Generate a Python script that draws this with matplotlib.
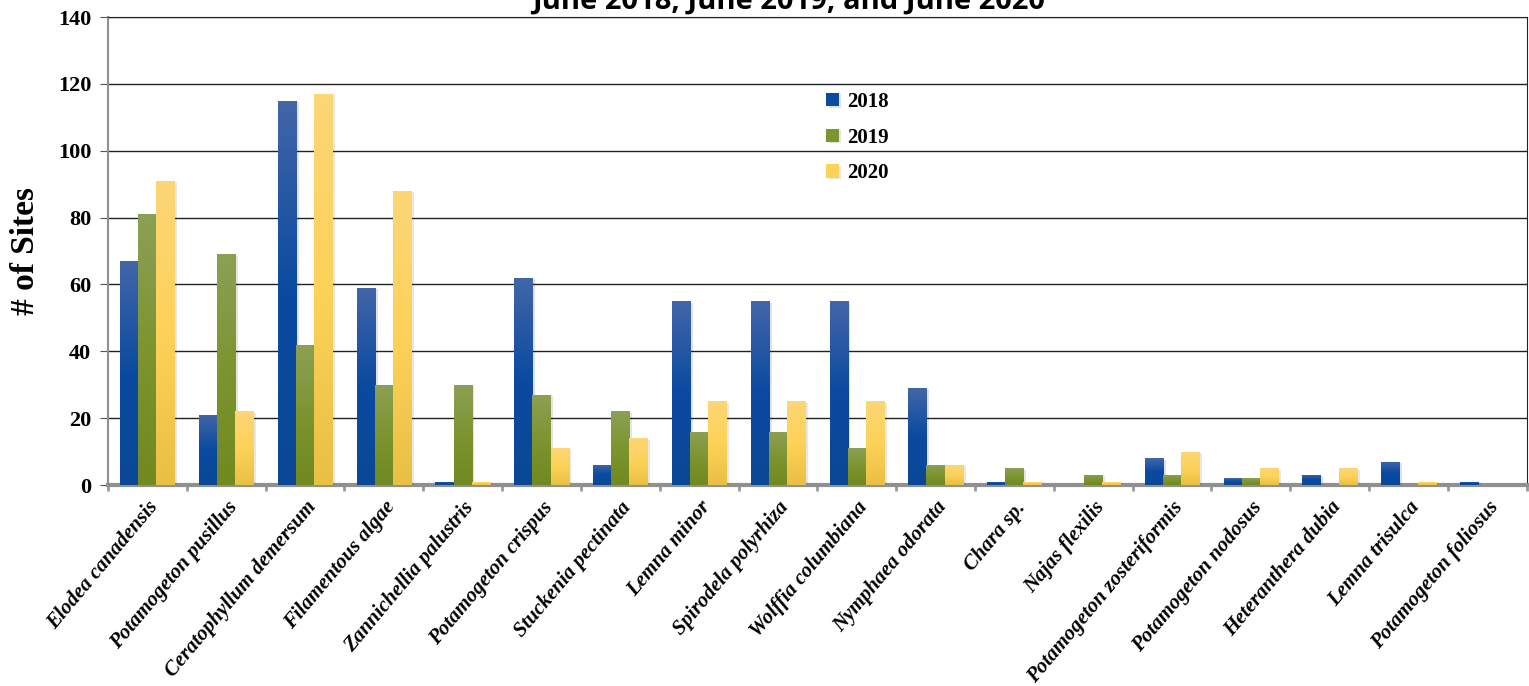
import numpy as np
import matplotlib
matplotlib.use("Agg")
import matplotlib.pyplot as plt
import matplotlib.patheffects as pe
from matplotlib.colors import LinearSegmentedColormap

species = ["Elodea canadensis", "Potamogeton pusillus", "Ceratophyllum demersum",
           "Filamentous algae", "Zannichellia palustris", "Potamogeton crispus",
           "Stuckenia pectinata", "Lemna minor", "Spirodela polyrhiza",
           "Wolffia columbiana", "Nymphaea odorata", "Chara sp.", "Najas flexilis",
           "Potamogeton zosteriformis", "Potamogeton nodosus", "Heteranthera dubia",
           "Lemna trisulca", "Potamogeton foliosus"]
sites_2018 = [67, 21, 115, 59, 1, 62, 6, 55, 55, 55, 29, 1, 0, 8, 2, 3, 7, 1]
sites_2019 = [81, 69, 42, 30, 30, 27, 22, 16, 16, 11, 6, 5, 3, 3, 2, 0, 0, 0]
sites_2020 = [91, 22, 117, 88, 1, 11, 14, 25, 25, 25, 6, 1, 1, 10, 5, 5, 1, 0]
years = ["2018", "2019", "2020"]
yticks = [0, 20, 40, 60, 80, 100, 120, 140]

# bottom, middle, top colours of each gradient
gradients = [
    ["#0a4896", "#0a4aa0", "#4266a8"],
    ["#71891f", "#7d9430", "#8ca055"],
    ["#e8c044", "#fdd258", "#fcd677"],
]

serif = "Liberation Serif"

fig, ax = plt.subplots(figsize=(15.29, 6.86), dpi=100)
fig.subplots_adjust(left=0.0706, right=0.9985, bottom=0.293, top=0.975)

x = np.arange(len(species))
w = 0.23
series = [sites_2018, sites_2019, sites_2020]
grad = np.linspace(0, 1, 128).reshape(-1, 1)
for i, (vals, cols, name) in enumerate(zip(series, gradients, years)):
    cmap = LinearSegmentedColormap.from_list("g%d" % i, cols)
    bars = ax.bar(x + (i - 1) * w, vals, w, color=cols[1], label=name, zorder=3,
                  path_effects=[pe.SimplePatchShadow(offset=(2, -1), alpha=0.12), pe.Normal()])
    for b in bars:
        if b.get_height() <= 0:
            continue
        im = ax.imshow(grad, cmap=cmap, aspect="auto", origin="lower", zorder=4,
                       extent=[b.get_x(), b.get_x() + b.get_width(), 0, b.get_height()])
        im.set_clip_path(b)

ax.set_xlim(-0.5, len(species) - 0.5)
ax.set_ylim(0, 140)
ax.set_yticks(yticks)
ax.yaxis.grid(True, color="#222222", linewidth=1.0, zorder=0)
ax.set_axisbelow(True)

ax.set_xticks(x)
ax.set_xticklabels(species, rotation=50, ha="right", va="top", rotation_mode="anchor",
                   fontfamily=serif, fontweight="bold", fontstyle="italic", fontsize=15)
ax.set_xticks(np.arange(len(species) + 1) - 0.5, minor=True)
ax.tick_params(axis="x", which="major", length=0, pad=9)
ax.tick_params(axis="x", which="minor", length=4, color="#999999", width=2)
ax.tick_params(axis="y", length=6, color="#555555", pad=6)
for lab in ax.get_yticklabels():
    lab.set_fontfamily(serif)
    lab.set_fontweight("bold")
    lab.set_fontsize(16)

ax.spines["bottom"].set_color("#909090")
ax.spines["bottom"].set_linewidth(3)
ax.spines["left"].set_color("#909090")
ax.spines["left"].set_linewidth(1.5)
ax.spines["top"].set_color("#222222")
ax.spines["right"].set_color("#222222")

ax.set_ylabel("# of Sites", fontfamily=serif, fontweight="bold", fontsize=24, labelpad=12)

leg = ax.legend(loc="upper left", bbox_to_anchor=(0.493, 0.88), frameon=False,
                prop={"family": serif, "weight": "bold", "size": 15},
                handlelength=0.6, handleheight=0.6, handletextpad=0.4, labelspacing=0.75)

fig.text(0.516, 0.998, "June 2018, June 2019, and June 2020", ha="center", va="center",
         fontfamily="Open Sans", fontweight="bold", fontsize=21)

fig.savefig("out.png", dpi=100)
